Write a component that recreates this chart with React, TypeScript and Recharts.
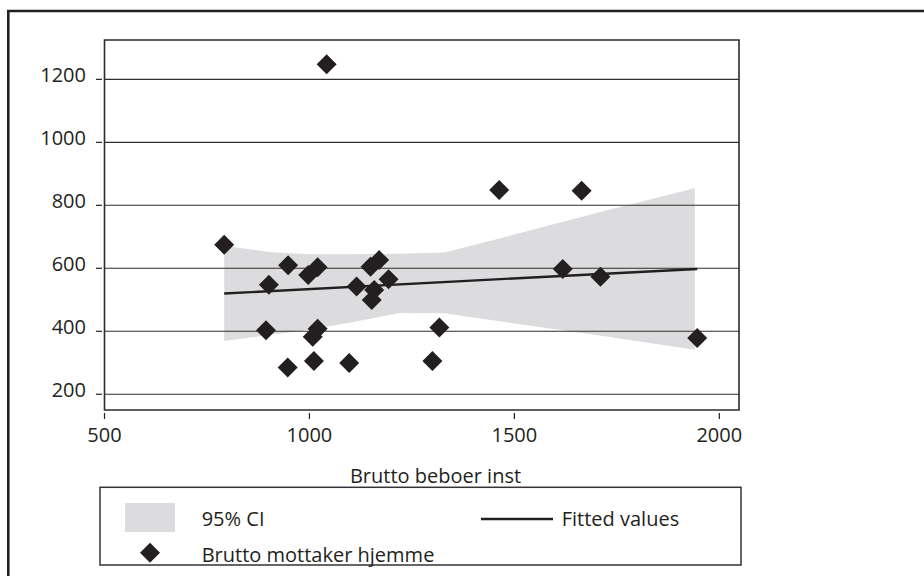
import React from 'react';
import { ComposedChart, XAxis, YAxis, Area, Line, Scatter, ReferenceLine, ReferenceArea } from 'recharts';

const xTicks = [500, 1000, 1500, 2000];
const yTicks = [200, 400, 600, 800, 1000, 1200];
const xDomain = [500, 2048];
const yDomain = [150, 1325];

// Brutto beboer inst (x) vs Brutto mottaker hjemme (y)
const pointX = [1042, 792, 948, 901, 997, 1020, 1115, 1149, 1170, 1193, 1158, 1152, 894, 1020, 1008, 947, 1011, 1097, 1317, 1300, 1463, 1664, 1618, 1710, 1946];
const pointY = [1248, 675, 610, 548, 579, 603, 542, 605, 626, 565, 531, 499, 403, 408, 383, 285, 306, 299, 412, 306, 849, 846, 598, 573, 379];

// 95% CI band
const ciX = [792, 900, 1000, 1100, 1220, 1330, 1500, 1700, 1940];
const ciLow = [369, 388, 405, 428, 458, 457, 425, 388, 341];
const ciHigh = [672, 652, 645, 645, 646, 650, 707, 776, 854];

// Fitted values
const fitX = [792, 1946];
const fitY = [520, 598];

const legendLabels = ['95% CI', 'Fitted values', 'Brutto mottaker hjemme'];
const xTitle = 'Brutto beboer inst';

const FONT = '"Open Sans", sans-serif';
const INK = '#231f20';

const ciData = ciX.map((x, i) => ({ x, ci: [ciLow[i], ciHigh[i]] }));
const fitData = fitX.map((x, i) => ({ x, fit: fitY[i] }));
const pointData = pointX.map((x, i) => ({ x, y: pointY[i] }));

const YTick = (props: any) => {
  const { x, y, payload } = props;
  return (
    <g>
      <line x1={x - 8.5} x2={x - 2.5} y1={y} y2={y} stroke={INK} strokeWidth={1.2} />
      <text x={x - 18.5} y={y + 2.5} textAnchor="end" fontFamily={FONT} fontSize={20} fill={INK}>
        {payload.value}
      </text>
    </g>
  );
};

const XTick = (props: any) => {
  const { x, y, payload } = props;
  return (
    <g>
      <line x1={x} x2={x} y1={y + 3} y2={y + 9} stroke={INK} strokeWidth={1.2} />
      <text x={x} y={y + 32} textAnchor="middle" fontFamily={FONT} fontSize={20} fill={INK}>
        {payload.value}
      </text>
    </g>
  );
};

const Diamond = (props: any) => {
  const { cx, cy } = props;
  const r = 10;
  return <polygon points={`${cx},${cy - r} ${cx + r},${cy} ${cx},${cy + r} ${cx - r},${cy}`} fill={INK} />;
};

export default function App() {
  return (
    <div style={{ position: 'absolute', left: 0, top: 0, width: 924, height: 576, background: '#fff' }}>
      <ComposedChart
        width={924}
        height={576}
        data={ciData}
        margin={{ top: 40, right: 185, bottom: 136, left: 44.5 }}
      >
        <XAxis
          dataKey="x"
          type="number"
          domain={xDomain}
          ticks={xTicks}
          allowDataOverflow
          axisLine={false}
          tickLine={false}
          tickSize={0}
          tickMargin={0}
          height={30}
          tick={<XTick />}
          interval={0}
        />
        <YAxis
          type="number"
          domain={yDomain}
          ticks={yTicks}
          allowDataOverflow
          axisLine={false}
          tickLine={false}
          tickSize={0}
          tickMargin={0}
          width={60}
          tick={<YTick />}
          interval={0}
        />
        <Area
          dataKey="ci"
          type="linear"
          fill="#dcdcde"
          fillOpacity={1}
          stroke="none"
          isAnimationActive={false}
          dot={false}
          activeDot={false}
        />
        {yTicks.map((v) => (
          <ReferenceLine key={v} y={v} stroke="#2e2e2e" strokeWidth={1.1} />
        ))}
        <Line
          data={fitData}
          dataKey="fit"
          type="linear"
          stroke={INK}
          strokeWidth={2.4}
          dot={false}
          activeDot={false}
          isAnimationActive={false}
        />
        <Scatter data={pointData} dataKey="y" shape={<Diamond />} isAnimationActive={false} />
        <ReferenceArea
          x1={xDomain[0]}
          x2={xDomain[1]}
          y1={yDomain[0]}
          y2={yDomain[1]}
          fill="none"
          fillOpacity={0}
          stroke="#2b2b2b"
          strokeWidth={1.6}
          ifOverflow="visible"
        />
      </ComposedChart>
      <svg
        width={924}
        height={576}
        style={{ position: 'absolute', left: 0, top: 0, pointerEvents: 'none' }}
      >
        <path d="M8.3,577 L8.3,11 L925,11" fill="none" stroke={INK} strokeWidth={2.6} />
        <text x={435.5} y={483} textAnchor="middle" fontFamily={FONT} fontSize={20} fill={INK}>
          {xTitle}
        </text>
        <rect x={100} y={487.3} width={641} height={77.7} fill="none" stroke="#333" strokeWidth={1.5} />
        <rect x={125} y={503} width={50} height={29} fill="#dcdcde" />
        <text x={201.7} y={525.5} fontFamily={FONT} fontSize={20} fill={INK}>
          {legendLabels[0]}
        </text>
        <line x1={481} x2={553} y1={519} y2={519} stroke={INK} strokeWidth={2.4} />
        <text x={561.7} y={526} fontFamily={FONT} fontSize={20} fill={INK}>
          {legendLabels[1]}
        </text>
        <polygon points="150,542.7 160,552.7 150,562.7 140,552.7" fill={INK} />
        <text x={201.7} y={561.5} fontFamily={FONT} fontSize={20} fill={INK}>
          {legendLabels[2]}
        </text>
      </svg>
    </div>
  );
}
